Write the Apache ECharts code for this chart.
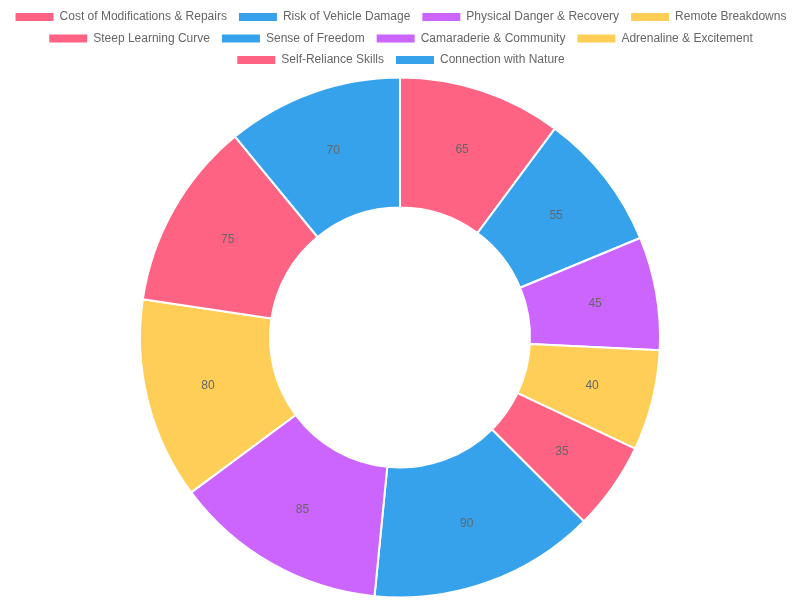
<!DOCTYPE html>
<html>
<head>
<meta charset="utf-8">
<script src="https://cdn.jsdelivr.net/npm/echarts@6/dist/echarts.min.js"></script>
<style>
  html, body { margin: 0; padding: 0; background: #fff; }
  #chart { width: 800px; height: 600px; }
</style>
</head>
<body>
<div id="chart"></div>
<script>
const categories = [
  "Cost of Modifications & Repairs",
  "Risk of Vehicle Damage",
  "Physical Danger & Recovery",
  "Remote Breakdowns",
  "Steep Learning Curve",
  "Sense of Freedom",
  "Camaraderie & Community",
  "Adrenaline & Excitement",
  "Self-Reliance Skills",
  "Connection with Nature"
];
const values = [65, 55, 45, 40, 35, 90, 85, 80, 75, 70];
const palette = ["#ff6384", "#36a2eb", "#cc65fe", "#ffce56"];

const chart = echarts.init(document.getElementById("chart"));
const font = "'Liberation Sans', Arial, sans-serif";

// legend split in rows like the original
const legendRows = [categories.slice(0, 4), categories.slice(4, 8), categories.slice(8)];
const legends = legendRows.map((row, i) => ({
  data: row,
  top: 6 + i * 21.5,
  left: "center",
  orient: "horizontal",
  itemWidth: 40,
  itemHeight: 10,
  itemGap: 10,
  icon: "rect",
  textStyle: { color: "#666", fontSize: 12, fontFamily: font }
}));

const option = {
  color: palette,
  legend: legends,
  series: [
    {
      name: "Off-roading",
      type: "pie",
      center: [400, 337.5],
      radius: [130, 260],
      startAngle: 90,
      clockwise: true,
      avoidLabelOverlap: false,
      itemStyle: { borderColor: "#fff", borderWidth: 2 },
      label: {
        show: true,
        position: "inside",
        formatter: "{c}",
        color: "#666",
        fontSize: 12,
        fontFamily: font
      },
      labelLine: { show: false },
      data: categories.map((name, i) => ({
        name: name,
        value: values[i],
        itemStyle: { color: palette[i % palette.length] }
      }))
    }
  ]
};
chart.setOption(option);
</script>
</body>
</html>
